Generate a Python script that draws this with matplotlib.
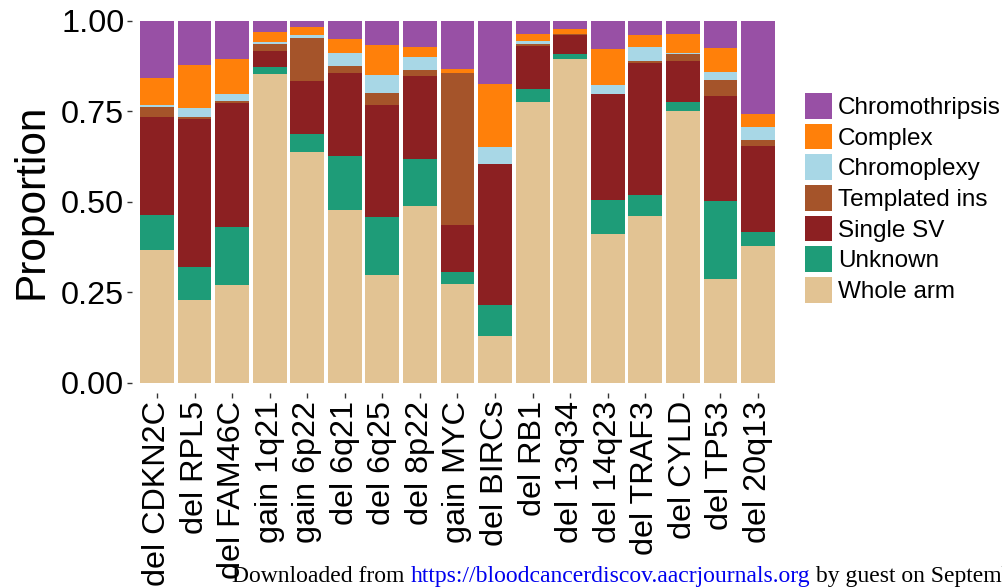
import numpy as np
import matplotlib
matplotlib.use("Agg")
from matplotlib import pyplot as plt
from matplotlib.patches import Patch

plt.rcParams['font.family'] = ['Liberation Sans', 'DejaVu Sans']

categories = ["del CDKN2C", "del RPL5", "del FAM46C", "gain 1q21", "gain 6p22",
              "del 6q21", "del 6q25", "del 8p22", "gain MYC", "del BIRCs",
              "del RB1", "del 13q34", "del 14q23", "del TRAF3", "del CYLD",
              "del TP53", "del 20q13"]

# proportion of each event class per region (bottom to top of the stack)
whole_arm      = [.368, .230, .270, .853, .637, .476, .297, .488, .273, .129, .775, .894, .411, .460, .750, .287, .379]
unknown        = [.095, .089, .161, .019, .050, .151, .160, .130, .032, .087, .037, .014, .093, .060, .025, .216, .038]
single_sv      = [.270, .408, .342, .045, .146, .229, .311, .228, .132, .389, .117, .052, .292, .363, .113, .290, .236]
templated_ins  = [.028, .006, .004, .019, .119, .018, .032, .017, .417, .000, .005, .004, .000, .005, .020, .042, .017]
chromoplexy    = [.007, .026, .019, .005, .007, .037, .051, .036, .002, .046, .009, .000, .025, .038, .003, .022, .037]
complex_sv     = [.074, .118, .099, .027, .023, .039, .081, .027, .011, .174, .021, .013, .101, .034, .053, .066, .035]
chromothripsis = [.158, .123, .105, .032, .018, .050, .068, .074, .133, .175, .036, .023, .078, .040, .036, .077, .258]

series = [("Whole arm", whole_arm, "#E2C393"),
          ("Unknown", unknown, "#1E9C78"),
          ("Single SV", single_sv, "#8C2022"),
          ("Templated ins", templated_ins, "#A5542A"),
          ("Chromoplexy", chromoplexy, "#A8D7E6"),
          ("Complex", complex_sv, "#FF800A"),
          ("Chromothripsis", chromothripsis, "#9850A5")]

W, H = 1003, 587
fig = plt.figure(figsize=(W / 100, H / 100), dpi=100)
ax = fig.add_axes([134.4 / W, 1 - 383 / H, (780.6 - 134.4) / W, (383 - 20.5) / H])

# no axis lines; x ticks sit a little below the bars
for s in ax.spines.values():
    s.set_visible(False)
ax.spines["bottom"].set_position(("outward", 7))
ax.spines["left"].set_position(("outward", 1.5))

x = np.arange(1, len(categories) + 1)
bottom = np.zeros(len(categories))
for name, vals, col in series:
    vals = np.array(vals)
    ax.bar(x, vals, width=0.9, bottom=bottom, color=col, linewidth=0, label=name)
    bottom += vals

ax.set_xlim(0.4, len(categories) + 0.6)
ax.set_ylim(0, 1)
ax.set_yticks([0, 0.25, 0.5, 0.75, 1.0])
ax.set_yticklabels(["0.00", "0.25", "0.50", "0.75", "1.00"])
ax.set_xticks(x)
ax.set_xticklabels(categories, rotation=90, ha="center", va="top")
ax.tick_params(axis="both", length=3.6, width=1.0, color="#333333",
               labelsize=23.3, pad=2.2, labelcolor="black")
ax.set_ylabel("Proportion", fontsize=30.5, labelpad=7)

# legend, top entry is the top of the stack
handles = [Patch(facecolor=col, label=name) for name, _, col in series[::-1]]
fig.legend(handles=handles, loc="upper left",
           bbox_to_anchor=(805 / W, 1 - 93 / H), frameon=False,
           fontsize=17.5, handlelength=1.11, handleheight=1.25,
           labelspacing=0.19, handletextpad=0.25, borderpad=0, borderaxespad=0)

# download footer
serif = ["Liberation Serif", "DejaVu Serif"]
t1 = fig.text(232 / W, 1 - 582 / H, "Downloaded from ", fontsize=17,
              family=serif, color="black", va="baseline")
t2 = ax.annotate("https://bloodcancerdiscov.aacrjournals.org", xy=(1, 0), xycoords=t1,
                 va="bottom", ha="left", fontsize=17, family=serif, color="#0000EE",
                 annotation_clip=False)
ax.annotate(" by guest on September", xy=(1, 0), xycoords=t2, va="bottom", ha="left",
            fontsize=17, family=serif, color="black", annotation_clip=False)

fig.savefig("out.png", dpi=100)
